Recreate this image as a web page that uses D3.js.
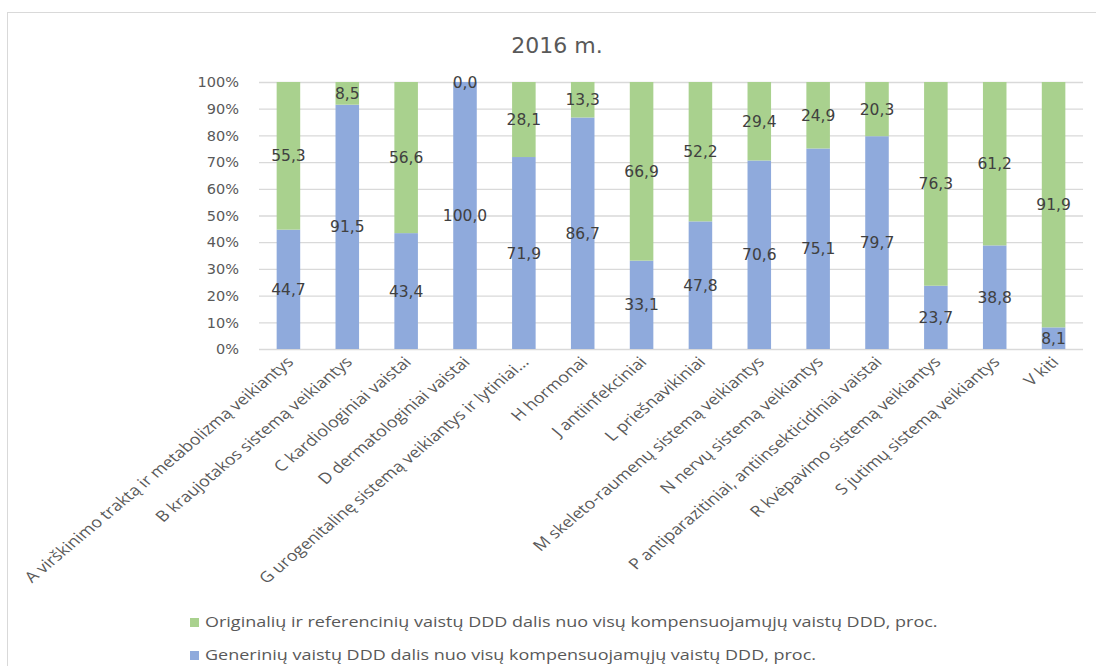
<!DOCTYPE html>
<meta charset="utf-8" />
<script src="https://d3js.org/d3.v7.min.js"></script>
<style>
  body { margin: 0; background: #fff; }
</style>
<div id="chart"></div>
<script>
  // categories (ATC groups)
  var categories = [
    "A virškinimo traktą ir metabolizmą veikiantys",
    "B kraujotakos sistemą veikiantys",
    "C kardiologiniai vaistai",
    "D dermatologiniai vaistai",
    "G urogenitalinę sistemą veikiantys ir lytiniai...",
    "H hormonai",
    "J antiinfekciniai",
    "L priešnavikiniai",
    "M skeleto-raumenų sistemą veikiantys",
    "N nervų sistemą veikiantys",
    "P antiparazitiniai, antiinsekticidiniai vaistai",
    "R kvėpavimo sistemą veikiantys",
    "S jutimų sistemą veikiantys",
    "V kiti"
  ];
  // generic share (bottom, blue)
  var generic = [44.7, 91.5, 43.4, 100.0, 71.9, 86.7, 33.1, 47.8, 70.6, 75.1, 79.7, 23.7, 38.8, 8.1];
  // original & reference share (top, green)
  var original = [55.3, 8.5, 56.6, 0.0, 28.1, 13.3, 66.9, 52.2, 29.4, 24.9, 20.3, 76.3, 61.2, 91.9];
  var yTicks = [0, 10, 20, 30, 40, 50, 60, 70, 80, 90, 100];
  var legendLabels = [
    "Originalių ir referencinių vaistų DDD dalis nuo visų kompensuojamųjų vaistų DDD, proc.",
    "Generinių vaistų DDD dalis nuo visų kompensuojamųjų vaistų DDD, proc."
  ];

  var W = 1096, H = 666;
  var green = "#a9d18e", blue = "#8faadc";
  var textCol = "#595959", labelCol = "#404040";
  var stretch = 1.19; // the original picture is a bit wider than tall

  var svg = d3.select("#chart").append("svg")
    .attr("width", W).attr("height", H);

  // chart frame
  svg.append("rect")
    .attr("x", 7.5).attr("y", 12.5)
    .attr("width", W + 20).attr("height", H + 20)
    .attr("fill", "none").attr("stroke", "#d9d9d9");

  svg.append("text")
    .attr("x", 557).attr("y", 53)
    .attr("text-anchor", "middle")
    .attr("font-family", "DejaVu Sans, Verdana, sans-serif")
    .attr("font-size", 22)
    .attr("fill", textCol)
    .text("2016 m.");

  var x = d3.scaleBand().domain(categories).range([259, 1083]).paddingInner(0.6).paddingOuter(0.3);
  var y = d3.scaleLinear().domain([0, 100]).range([349, 82]);

  // gridlines
  svg.append("g").selectAll("line")
    .data(yTicks).enter().append("line")
    .attr("x1", 259).attr("x2", 1083)
    .attr("y1", function (d) { return y(d) + 0.5; })
    .attr("y2", function (d) { return y(d) + 0.5; })
    .attr("stroke", "#d9d9d9").attr("stroke-width", 1.3);

  // y axis labels
  svg.append("g").selectAll("text")
    .data(yTicks).enter().append("text")
    .attr("x", 239)
    .attr("y", function (d) { return y(d); })
    .attr("dy", "0.36em")
    .attr("text-anchor", "end")
    .attr("font-family", "DejaVu Sans, Verdana, sans-serif")
    .attr("font-size", 14.5)
    .attr("fill", textCol)
    .text(function (d) { return d + "%"; });

  // stacked bars
  var rows = categories.map(function (c, i) {
    return { cat: c, generic: generic[i], original: original[i] };
  });
  var stacked = d3.stack().keys(["generic", "original"])(rows);
  var color = { generic: blue, original: green };

  var layers = svg.append("g").selectAll("g")
    .data(stacked).enter().append("g")
    .attr("fill", function (d) { return color[d.key]; });

  layers.selectAll("rect")
    .data(function (d) { return d; })
    .enter().append("rect")
    .attr("x", function (d) { return x(d.data.cat); })
    .attr("y", function (d) { return y(d[1]); })
    .attr("width", x.bandwidth())
    .attr("height", function (d) { return y(d[0]) - y(d[1]); });

  // data labels
  var fmt = function (v) { return v.toFixed(1).replace(".", ","); };
  layers.selectAll("text")
    .data(function (d) { return d.map(function (p) { return { p: p, key: d.key }; }); })
    .enter().append("text")
    .attr("x", function (d) { return x(d.p.data.cat) + x.bandwidth() / 2; })
    .attr("y", function (d) { return y((d.p[0] + d.p[1]) / 2); })
    .attr("dy", "0.36em")
    .attr("text-anchor", "middle")
    .attr("font-family", "DejaVu Sans, Verdana, sans-serif")
    .attr("font-size", 15.5)
    .attr("fill", labelCol)
    .text(function (d) { return fmt(d.p.data[d.key]); });

  // category labels (rotated 45deg, then stretched like the source image)
  svg.append("g").selectAll("text")
    .data(categories).enter().append("text")
    .attr("transform", function (d) {
      return "translate(" + (x(d) + x.bandwidth() / 2 + 6) + ",363) scale(" + stretch + ",1) rotate(-45)";
    })
    .attr("text-anchor", "end")
    .attr("font-family", "Open Sans, sans-serif")
    .attr("font-size", 15)
    .attr("fill", textCol)
    .text(function (d) { return d; });

  // legend
  var legend = svg.append("g").selectAll("g")
    .data(legendLabels).enter().append("g")
    .attr("transform", function (d, i) { return "translate(190," + (618 + i * 33) + ")"; });
  legend.append("rect")
    .attr("width", 9).attr("height", 9)
    .attr("fill", function (d, i) { return i === 0 ? green : blue; });
  legend.append("text")
    .attr("transform", "translate(15,9) scale(1.2,1)")
    .attr("font-family", "Open Sans, sans-serif")
    .attr("font-size", 15)
    .attr("fill", textCol)
    .text(function (d) { return d; });
</script>
